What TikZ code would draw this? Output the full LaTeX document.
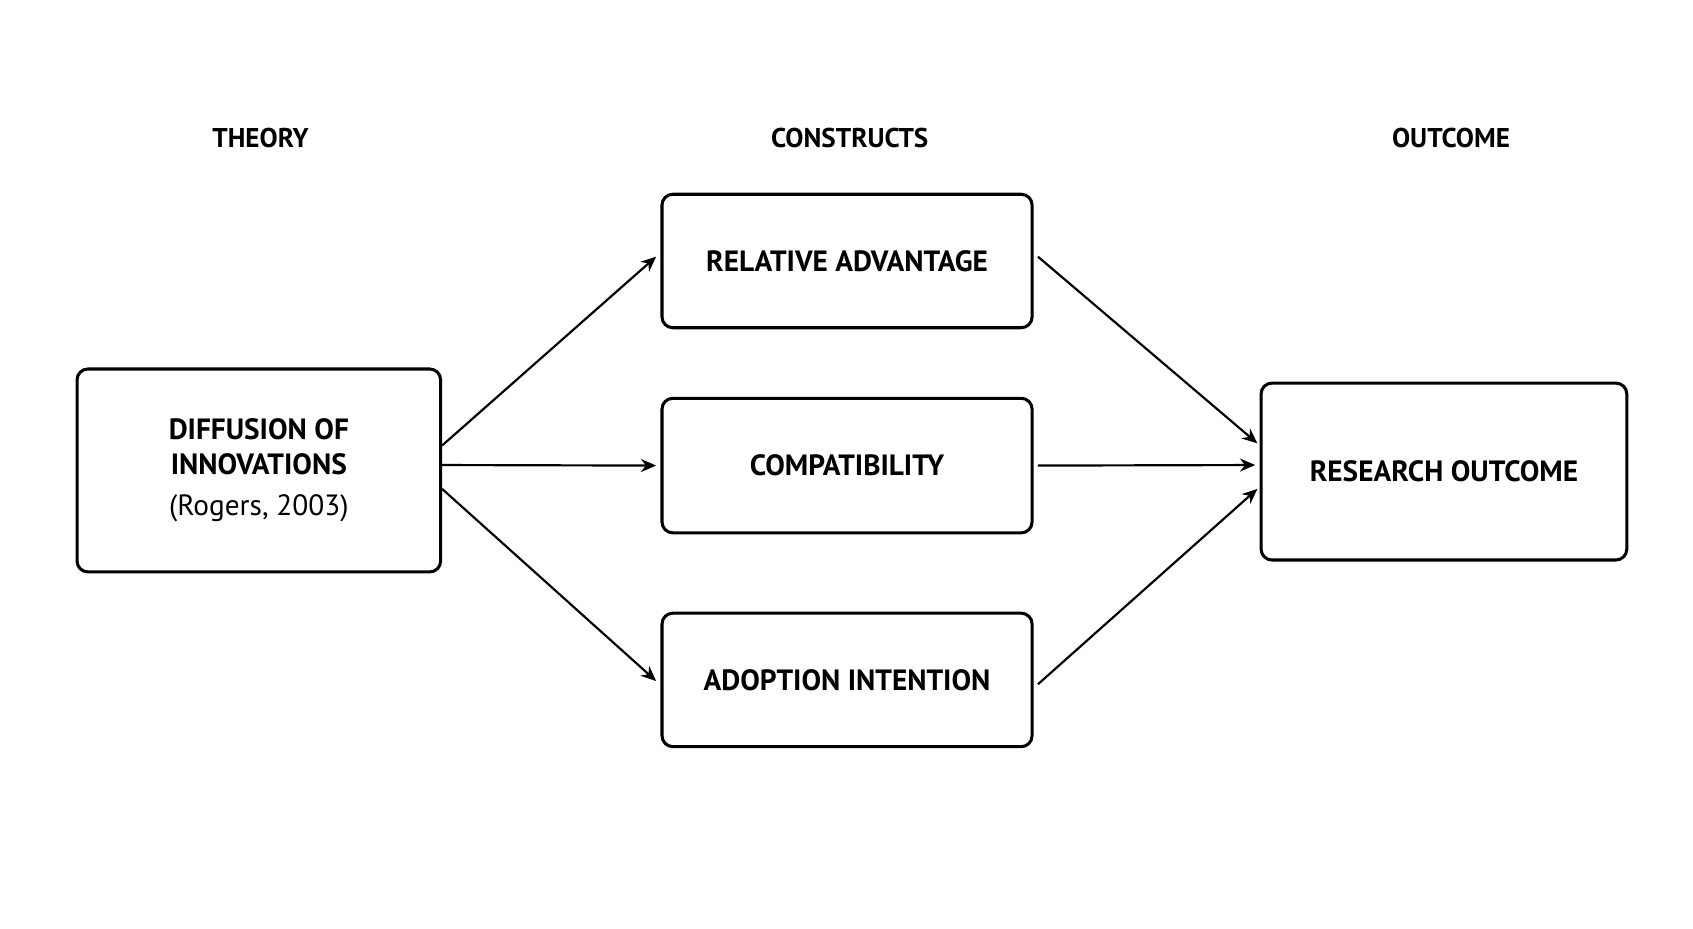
\documentclass[tikz,border=0pt]{standalone}
\usepackage{fontspec}
\setmainfont{PT Sans}
\usetikzlibrary{arrows.meta}
\begin{document}
\begin{tikzpicture}[x=0.5pt,y=-0.5pt,
  box/.style={draw,line width=1.4pt,rounded corners=5pt,inner sep=0pt,align=center,font=\fontsize{13.5}{16}\selectfont\bfseries},
  head/.style={font=\fontsize{12.5}{15}\selectfont\bfseries},
  arr/.style={-{Stealth[length=7pt,width=6pt]},line width=1pt}]
\useasboundingbox (0,0) rectangle (1560,856);
\fill[white] (0,0) rectangle (1560,856);
\node[head] (t1) at (240,127) {THEORY};
\node[head] (t2) at (783,127) {CONSTRUCTS};
\node[head] (t3) at (1337,127) {OUTCOME};
\node[box,minimum width=167.5pt,minimum height=93.5pt] (L) at (238.5,433.5) {DIFFUSION OF\\INNOVATIONS\\[3pt]{\mdseries (Rogers, 2003)}};
\node[box,minimum width=170.5pt,minimum height=61.5pt] (A) at (780.5,240.5) {RELATIVE ADVANTAGE};
\node[box,minimum width=170.5pt,minimum height=62pt] (B) at (780.5,429) {COMPATIBILITY};
\node[box,minimum width=170.5pt,minimum height=61.5pt] (C) at (780.5,626.5) {ADOPTION INTENTION};
\node[box,minimum width=168.5pt,minimum height=81.5pt] (R) at (1330.5,434.5) {RESEARCH OUTCOME};
\draw[arr] ([yshift=11.5pt]L.east) -- ([xshift=-2pt,yshift=2pt]A.west);
\draw[arr] ([yshift=2.5pt]L.east) -- ([xshift=-2pt]B.west);
\draw[arr] ([yshift=-8.5pt]L.east) -- ([xshift=-2pt,yshift=-0.5pt]C.west);
\draw[arr] ([xshift=2pt,yshift=2pt]A.east) -- ([xshift=-1pt,yshift=13pt]R.west);
\draw[arr] ([xshift=2pt]B.east) -- ([xshift=-2pt,yshift=3pt]R.west);
\draw[arr] ([xshift=2pt,yshift=-2pt]C.east) -- ([xshift=-1pt,yshift=-8pt]R.west);
\end{tikzpicture}
\end{document}
